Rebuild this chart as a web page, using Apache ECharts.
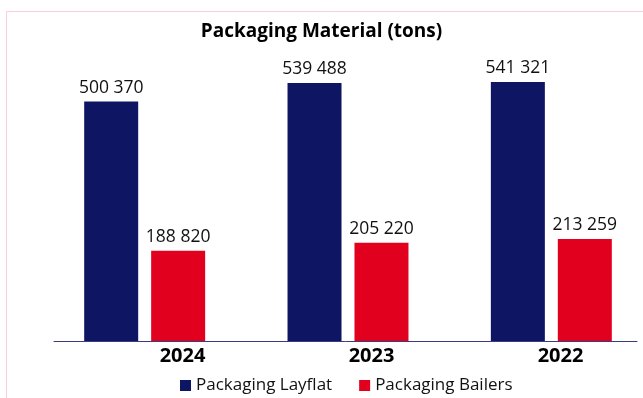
<!DOCTYPE html>
<html>
<head>
<meta charset="utf-8">
<style>
  html, body { margin: 0; padding: 0; background: #ffffff; }
  #chart { width: 643px; height: 398px; }
</style>
<script src="https://cdn.jsdelivr.net/npm/echarts@6/dist/echarts.min.js"></script>
</head>
<body>
<div id="chart"></div>
<script>
// Packaging material volumes per year (tons)
const categories = ['2024', '2023', '2022'];
const layflat = [500370, 539488, 541321];
const bailers = [188820, 205220, 213259];
const seriesNames = ['Packaging Layflat', 'Packaging Bailers'];
const titleText = 'Packaging Material (tons)';

const NAVY = '#0e1563';
const RED = '#e2001f';
const FONT = '"Open Sans", "Liberation Sans", sans-serif';

// "500 370" style thousands grouping
function spaced(v) {
  return String(v).replace(/\B(?=(\d{3})+(?!\d))/g, ' ');
}

const chart = echarts.init(document.getElementById('chart'), null, { renderer: 'canvas' });

const valueLabel = {
  show: true,
  position: 'top',
  distance: 5,
  color: '#111',
  fontFamily: FONT,
  fontSize: 17.5,
  formatter: p => spaced(p.value)
};

const hiddenY = {
  type: 'value', show: false, min: 0,
  axisLine: { show: false }, splitLine: { show: false }
};

chart.setOption({
  animation: false,
  backgroundColor: '#ffffff',
  title: {
    text: titleText,
    left: 'center',
    top: 17,
    textStyle: { fontFamily: FONT, fontSize: 19, fontWeight: 'bold', color: '#000' }
  },
  legend: {
    data: seriesNames,
    bottom: -1,
    left: 175,
    icon: 'rect',
    itemWidth: 11,
    itemHeight: 11,
    itemGap: 27,
    textStyle: { fontFamily: FONT, fontSize: 17, color: '#111' }
  },
  grid: [
    // bars (plot area runs a little past the right edge)
    { left: 43, width: 610, top: 60, bottom: 57, outerBoundsMode: 'none' },
    // baseline
    { left: 54, right: 6, top: 60, bottom: 57, outerBoundsMode: 'none' },
    // year labels
    { left: 88, width: 567, top: 60, bottom: 57, outerBoundsMode: 'none' }
  ],
  xAxis: [
    {
      type: 'category', gridIndex: 0, data: categories,
      axisLine: { show: false }, axisTick: { show: false }, axisLabel: { show: false }
    },
    {
      type: 'category', gridIndex: 1, data: categories,
      axisLine: { show: true, lineStyle: { color: '#3a3d7c', width: 1 } },
      axisTick: { show: false }, axisLabel: { show: false }
    },
    {
      type: 'category', gridIndex: 2, data: categories,
      axisLine: { show: false }, axisTick: { show: false },
      axisLabel: {
        show: true, margin: 5, color: '#000',
        fontFamily: FONT, fontSize: 20, fontWeight: 'bold'
      }
    }
  ],
  yAxis: [
    Object.assign({ gridIndex: 0, max: 587300 }, hiddenY),
    Object.assign({ gridIndex: 1, max: 1 }, hiddenY),
    Object.assign({ gridIndex: 2, max: 1 }, hiddenY)
  ],
  series: [
    {
      name: seriesNames[0],
      type: 'bar',
      xAxisIndex: 0, yAxisIndex: 0,
      data: layflat,
      barWidth: 54,
      barGap: '24%',
      itemStyle: { color: NAVY },
      label: valueLabel
    },
    {
      name: seriesNames[1],
      type: 'bar',
      xAxisIndex: 0, yAxisIndex: 0,
      data: bailers,
      barWidth: 54,
      barGap: '24%',
      itemStyle: { color: RED },
      label: valueLabel
    }
  ],
  graphic: [
    {
      type: 'rect',
      silent: true,
      shape: { x: 6.5, y: 11.5, width: 700, height: 500 },
      style: { fill: 'none', stroke: '#f6cfd8', lineWidth: 1 }
    }
  ]
});
</script>
</body>
</html>
